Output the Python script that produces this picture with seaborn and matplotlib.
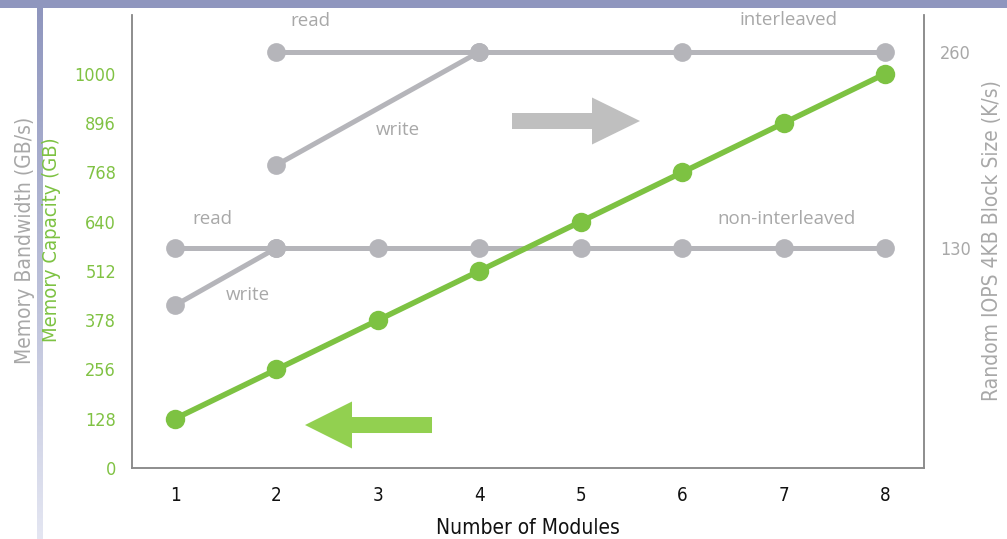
import numpy as np
import matplotlib
matplotlib.use("Agg")
import matplotlib.pyplot as plt
import seaborn as sns
from matplotlib.patches import FancyArrow

# ---- data -------------------------------------------------------------
modules = [1, 2, 3, 4, 5, 6, 7, 8]
capacity_gb = [128, 256, 384, 512, 640, 768, 896, 1024]
capacity_ticks = [0, 128, 256, 384, 512, 640, 768, 896, 1024]
capacity_tick_labels = ["0", "128", "256", "378", "512", "640", "768", "896", "1000"]

interleaved_read_x = [2, 4, 6, 8]
interleaved_read = [260, 260, 260, 260]
interleaved_write_x = [2, 4]
interleaved_write = [185, 260]
noninterleaved_read_x = [1, 2, 3, 4, 5, 6, 7, 8]
noninterleaved_read = [130, 130, 130, 130, 130, 130, 130, 130]
noninterleaved_write_x = [1, 2]
noninterleaved_write = [92, 130]

iops_ticks = [130, 260]
iops_tick_labels = ["130", "260"]

# ---- styling ----------------------------------------------------------
GREEN = "#7DC242"
GREEN_ARROW = "#92D050"
GREEN_TEXT = "#80C243"
GRAY = "#B5B5BA"
GRAY_ARROW = "#BFBFBF"
GRAY_TEXT = "#A8A8A8"
SPINE = "#8A8A8A"
BAND = "#8F96BE"

sns.set_theme(style="white")
plt.rcParams["font.family"] = ["DejaVu Sans"]

W, H = 1007, 539
fig = plt.figure(figsize=(W / 100, H / 100), dpi=100)
fig.patch.set_facecolor("white")

# axes frame in pixels
L, R, T, B = 132, 924, 15, 468
ax = fig.add_axes([L / W, 1 - B / H, (R - L) / W, (B - T) / H])
ax2 = ax.twinx()
ax.set_zorder(ax2.get_zorder() + 1)
ax.patch.set_visible(False)

line_kw = dict(marker="o", markersize=13.5, markeredgewidth=0, linewidth=3.6)

# bandwidth / IOPS series (grey, right axis)
for xs, ys in [(interleaved_read_x, interleaved_read),
               (interleaved_write_x, interleaved_write),
               (noninterleaved_read_x, noninterleaved_read),
               (noninterleaved_write_x, noninterleaved_write)]:
    sns.lineplot(x=xs, y=ys, ax=ax2, color=GRAY, **line_kw)

# capacity series (green, left axis)
sns.lineplot(x=modules, y=capacity_gb, ax=ax, color=GREEN,
             marker="o", markersize=14, markeredgewidth=0, linewidth=4)

ax.set_xlim(0.576, 8.385)
ax.set_ylim(0, 1177)
ax2.set_ylim(-15.9, 284.5)

ax.set_xticks(modules)
ax.set_xticklabels([str(m) for m in modules], color="#111111", fontsize=13.5,
                   fontstretch="condensed")
ax.set_yticks(capacity_ticks)
ax.set_yticklabels(capacity_tick_labels, color=GREEN_TEXT, fontsize=13,
                   fontstretch="condensed")
ax2.set_yticks(iops_ticks)
ax2.set_yticklabels(iops_tick_labels, color=GRAY_TEXT, fontsize=13,
                    fontstretch="condensed")
ax.tick_params(axis="x", length=0, pad=13)
ax.tick_params(axis="y", length=0, pad=11.5)
ax2.tick_params(axis="y", length=0, pad=11.5)

ax.set_xlabel("Number of Modules", fontsize=15, color="#111111", labelpad=9,
              fontstretch="condensed")
ax.set_ylabel("")
ax2.set_ylabel("")

for a in (ax, ax2):
    a.grid(False)
    a.spines["top"].set_visible(False)
    for side in ("left", "right", "bottom"):
        a.spines[side].set_color(SPINE)
        a.spines[side].set_linewidth(1.1)

# axis titles
fig.text(25 / W, 1 - 240 / H, "Memory Bandwidth (GB/s)", rotation=90,
         ha="center", va="center", color=GRAY_TEXT, fontsize=15,
         fontstretch="condensed")
fig.text(52 / W, 1 - 240 / H, "Memory Capacity (GB)", rotation=90,
         ha="center", va="center", color=GREEN, fontsize=14.5,
         fontstretch="condensed")
fig.text(992 / W, 1 - 241 / H, "Random IOPS 4KB Block Size (K/s)", rotation=90,
         ha="center", va="center", color=GRAY_TEXT, fontsize=15,
         fontstretch="condensed")

# series annotations
note_kw = dict(transform=ax.transAxes, ha="center", va="center",
               color=GRAY_TEXT, fontsize=13.5, family="Open Sans", clip_on=False)
ax.text(0.2247, 0.9868, "read", **note_kw)
ax.text(0.8283, 0.989, "interleaved", **note_kw)
ax.text(0.3359, 0.7461, "write", **note_kw)
ax.text(0.1010, 0.5497, "read", **note_kw)
ax.text(0.8270, 0.5497, "non-interleaved", **note_kw)
ax.text(0.1465, 0.3819, "write", **note_kw)

# direction arrows
pw, ph = R - L, B - T
ax.add_patch(FancyArrow(0.4798, 0.766, 128 / pw, 0, width=16 / ph,
                        head_width=47 / ph, head_length=48 / pw,
                        length_includes_head=True, transform=ax.transAxes,
                        color=GRAY_ARROW, lw=0, clip_on=False))
ax.add_patch(FancyArrow(0.3788, 0.0949, -127 / pw, 0, width=16 / ph,
                        head_width=47 / ph, head_length=47 / pw,
                        length_includes_head=True, transform=ax.transAxes,
                        color=GREEN_ARROW, lw=0, clip_on=False))

# page decoration: top band and fading side bar
band = fig.add_axes([0, 1 - 8 / H, 1, 8 / H])
band.set_facecolor(BAND)
band.set_xticks([]); band.set_yticks([])
for s in band.spines.values():
    s.set_visible(False)

bar = fig.add_axes([37 / W, 0, 6 / W, 1 - 8 / H])
top_rgb = np.array([143, 150, 190]) / 255
bot_rgb = np.array([228, 230, 242]) / 255
t = np.linspace(0, 1, 256)[:, None]
grad = (top_rgb[None, :] * (1 - t) + bot_rgb[None, :] * t)[:, None, :]
bar.imshow(grad, aspect="auto", extent=[0, 1, 0, 1])
bar.axis("off")

fig.savefig("out.png", dpi=100)
